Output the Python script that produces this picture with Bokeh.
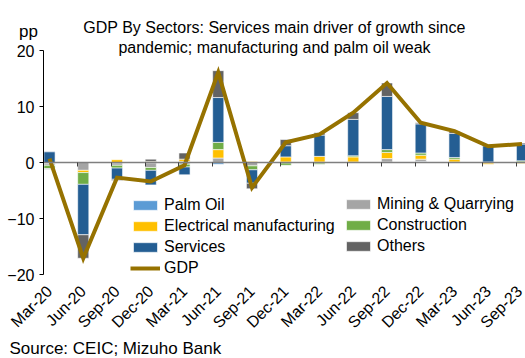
import numpy as np
from math import pi
from bokeh.plotting import figure
from bokeh.models import (FixedTicker, LinearAxis, Legend, LegendItem, Label, Range1d)
from bokeh.embed import file_html
from bokeh.resources import INLINE

# ---- data ----
quarters = ["Mar-20", "Jun-20", "Sep-20", "Dec-20", "Mar-21", "Jun-21", "Sep-21", "Dec-21",
            "Mar-22", "Jun-22", "Sep-22", "Dec-22", "Mar-23", "Jun-23", "Sep-23"]
palm_oil     = [-0.2,  0.0, -0.1, -0.1,  0.2, -0.3,  0.0, -0.1, -0.1, 0.0, 0.1, 0.2, 0.0,  0.0,  0.0]
mining       = [-0.3, -1.4, -0.4, -0.8, -0.3,  0.8, -0.6,  0.1,  0.1, 0.1, 0.6, 0.4, 0.1, -0.1,  0.1]
electrical   = [ 0.0, -0.4,  0.5,  0.2,  0.4,  1.5,  0.2,  0.9,  1.0, 0.9, 1.1, 0.7, 0.5, -0.2, -0.2]
construction = [-0.6, -2.1, -0.5, -0.5, -0.5,  1.3, -0.7, -0.4, -0.2, 0.2, 0.5, 0.4, 0.3,  0.1,  0.2]
services     = [ 1.9, -9.0, -2.0, -2.6, -1.4,  8.0, -2.4,  2.0,  3.8, 6.5, 9.5, 5.2, 4.3,  2.9,  3.0]
others       = [-0.1, -4.2, -0.2,  0.4,  1.1,  4.8, -1.0,  1.1,  0.4, 1.2, 2.4, 0.2, 0.4,  0.2,  0.2]
gdp          = [ 0.7, -17.1, -2.7, -3.4, -0.5, 16.1, -4.5, 3.6, 5.0, 8.9, 14.2, 7.1, 5.6, 2.9, 3.3]
y_ticks = [-20, -10, 0, 10, 20]

series_names = ["Palm Oil", "Mining & Quarrying", "Electrical manufacturing",
                "Construction", "Services", "Others"]
series_vals = [palm_oil, mining, electrical, construction, services, others]
series_colors = ["#5B9BD5", "#A5A5A5", "#FFC000", "#70AD47", "#245E93", "#636363"]

FONT = "Liberation Sans"
n = len(quarters)
xs = np.arange(n)
bar_w = 0.33

# layout constants (frame covers the whole figure; axes are fixed inside it)
W, H = 525, 358
X0, X1 = -1.452, 14.104       # x range
Y0, Y1 = -35.0, 28.93         # y range
Y_AXIS_X = -0.178             # where the value axis stands

p = figure(width=W, height=H, output_backend="svg", toolbar_location=None,
           x_range=Range1d(X0, X1), y_range=Range1d(Y0, Y1),
           x_axis_type=None, y_axis_type=None,
           min_border=0, min_border_left=0, min_border_right=0,
           min_border_top=0, min_border_bottom=0)
p.outline_line_color = None
p.background_fill_color = "white"
p.border_fill_color = "white"

# stacked bars (positives and negatives stacked separately)
pos_base = np.zeros(n)
neg_base = np.zeros(n)
renderers = {}
for name, vals, color in zip(series_names, series_vals, series_colors):
    v = np.array(vals, dtype=float)
    bottom = np.where(v >= 0, pos_base, neg_base + v)
    top = np.where(v >= 0, pos_base + v, neg_base)
    pos_base = pos_base + np.where(v >= 0, v, 0)
    neg_base = neg_base + np.where(v < 0, v, 0)
    r = p.vbar(x=xs, bottom=bottom, top=top, width=bar_w, fill_color=color,
               line_color="white", line_width=0.6)
    renderers[name] = r

gdp_r = p.line(x=xs, y=gdp, line_color="#967200", line_width=4, line_join="miter")

# category labels axis (at the bottom of the value range)
label_axis = LinearAxis(fixed_location=y_ticks[0],
                        ticker=FixedTicker(ticks=[float(i) for i in xs]),
                        major_label_overrides={float(i): q for i, q in zip(xs, quarters)},
                        major_label_orientation=pi / 4,
                        axis_line_color=None, major_tick_line_color=None,
                        minor_tick_line_color=None, major_tick_out=6,
                        major_label_standoff=8,
                        major_label_text_font=FONT, major_label_text_font_size="16px",
                        major_label_text_color="black")
p.add_layout(label_axis, "below")

# zero line with tick marks between categories
zero_ticks = [float(i) - bar_w / 2 for i in xs]
zero_axis = LinearAxis(fixed_location=0, bounds=(Y_AXIS_X, X1),
                       ticker=FixedTicker(ticks=zero_ticks),
                       major_label_overrides={t: "" for t in zero_ticks},
                       major_label_text_font_size="0px", major_label_standoff=0,
                       major_tick_out=4, major_tick_in=0,
                       axis_line_color="#7F7F7F", axis_line_width=1.5,
                       major_tick_line_color="#404040", minor_tick_line_color=None)
p.add_layout(zero_axis, "below")

# value axis
y_axis = LinearAxis(fixed_location=Y_AXIS_X, bounds=(y_ticks[0], y_ticks[-1]),
                    ticker=FixedTicker(ticks=y_ticks),
                    major_tick_out=4, major_tick_in=0, minor_tick_line_color=None,
                    axis_line_color="black", major_tick_line_color="black",
                    major_label_standoff=5,
                    major_label_text_font=FONT, major_label_text_font_size="16px",
                    major_label_text_color="black")
p.add_layout(y_axis, "left")

# legends (two columns)
def make_legend(items, loc):
    return Legend(items=items, location=loc, orientation="vertical",
                  glyph_width=30, glyph_height=12, label_standoff=4, label_height=18,
                  spacing=3, padding=0, margin=0, border_line_color=None,
                  background_fill_alpha=0, label_text_font=FONT,
                  label_text_font_size="16px", label_text_color="black")

leg1 = make_legend([LegendItem(label="Palm Oil", renderers=[renderers["Palm Oil"]]),
                    LegendItem(label="Electrical manufacturing", renderers=[renderers["Electrical manufacturing"]]),
                    LegendItem(label="Services", renderers=[renderers["Services"]]),
                    LegendItem(label="GDP", renderers=[gdp_r])], (130, 81))
leg2 = make_legend([LegendItem(label="Mining & Quarrying", renderers=[renderers["Mining & Quarrying"]]),
                    LegendItem(label="Construction", renderers=[renderers["Construction"]]),
                    LegendItem(label="Others", renderers=[renderers["Others"]])], (343, 103))
p.add_layout(leg1)
p.add_layout(leg2)

# texts
def add_text(text, x, y, size, align):
    p.add_layout(Label(x=x, y=y, x_units="screen", y_units="screen", text=text,
                       text_font=FONT, text_font_size=size, text_align=align,
                       text_baseline="alphabetic", text_color="black"))

add_text("GDP By Sectors: Services main driver of growth since", 274, 331, "16px", "center")
add_text("pandemic; manufacturing and palm oil weak", 274, 311, "16px", "center")
add_text("pp", 28, 327, "17px", "center")
add_text("Source: CEIC; Mizuho Bank", 9, 10, "17px", "left")

open("out.html", "w").write(file_html(p, INLINE))
